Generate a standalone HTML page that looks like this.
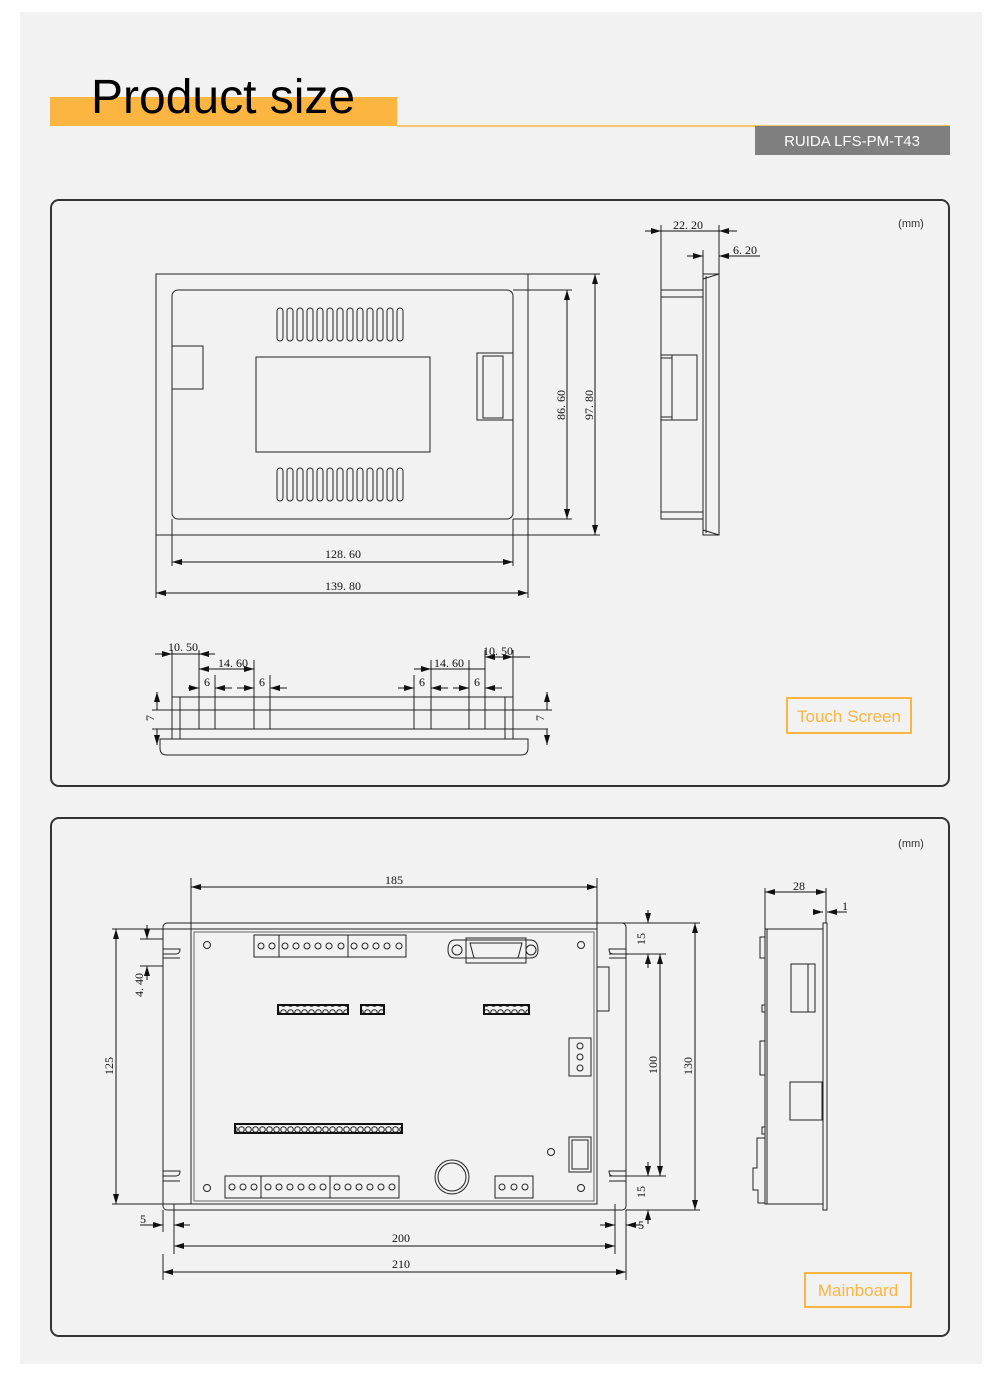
<!DOCTYPE html>
<html><head><meta charset="utf-8"><style>
html,body{margin:0;padding:0;background:#fff;}
svg{display:block;}
.d{font-family:"Liberation Serif",serif;font-size:12px;fill:#111;}
</style></head><body>
<svg width="1000" height="1396" viewBox="0 0 1000 1396" xmlns="http://www.w3.org/2000/svg">
<defs>
<marker id="a" viewBox="0 0 10 6" refX="10" refY="3" markerWidth="10" markerHeight="6" orient="auto-start-reverse" markerUnits="userSpaceOnUse"><path d="M0,0L10,3L0,6z" fill="#111"/></marker>
<pattern id="pins" x="0" y="0" width="7" height="9" patternUnits="userSpaceOnUse"><rect width="7" height="9" fill="#f2f2f2"/><circle cx="3.5" cy="4.5" r="2.8" fill="none" stroke="#222" stroke-width="1"/></pattern>
</defs>
<rect x="20" y="12" width="962" height="1352" fill="#f2f2f2"/>
<!-- header -->
<rect x="50" y="97" width="347" height="29" fill="#fbb540"/>
<line x1="397" y1="126" x2="950" y2="126" stroke="#fbb540" stroke-width="1.5"/>
<text x="91" y="113" font-family="Liberation Sans,sans-serif" font-size="48" fill="#000">Product size</text>
<rect x="755" y="126" width="195" height="29" fill="#7f7f7f"/>
<text x="852" y="146" font-family="Liberation Sans,sans-serif" font-size="15" fill="#fff" text-anchor="middle">RUIDA LFS-PM-T43</text>

<!-- panel 1 -->
<rect x="51" y="200" width="898" height="586" rx="8" fill="none" stroke="#333" stroke-width="2"/>
<text x="911" y="227" font-family="Liberation Sans,sans-serif" font-size="11" fill="#333" text-anchor="middle">(mm)</text>
<g fill="none" stroke="#222" stroke-width="1">
<rect x="156" y="274" width="372" height="261"/>
<rect x="172" y="290" width="341" height="229" rx="6"/>
<rect x="256" y="357" width="174" height="95"/>
<path d="M172,346H203V389H172"/>
<rect x="477" y="353" width="36" height="67"/>
<rect x="483" y="356" width="20" height="62"/>
<g id="vents">
<rect x="277" y="308" width="6" height="33" rx="3"/><rect x="287" y="308" width="6" height="33" rx="3"/><rect x="297" y="308" width="6" height="33" rx="3"/><rect x="307" y="308" width="6" height="33" rx="3"/><rect x="317" y="308" width="6" height="33" rx="3"/><rect x="327" y="308" width="6" height="33" rx="3"/><rect x="337" y="308" width="6" height="33" rx="3"/><rect x="347" y="308" width="6" height="33" rx="3"/><rect x="357" y="308" width="6" height="33" rx="3"/><rect x="367" y="308" width="6" height="33" rx="3"/><rect x="377" y="308" width="6" height="33" rx="3"/><rect x="387" y="308" width="6" height="33" rx="3"/><rect x="397" y="308" width="6" height="33" rx="3"/>
</g>
<use href="#vents" y="160"/>
<path d="M513,290H572M513,519H572M528,274H600M528,535H600M172,519V566M513,519V566M156,535V598M528,535V598"/>
</g>
<g stroke="#111" stroke-width="1">
<line x1="567" y1="290" x2="567" y2="519" marker-start="url(#a)" marker-end="url(#a)"/>
<line x1="595" y1="274" x2="595" y2="535" marker-start="url(#a)" marker-end="url(#a)"/>
<line x1="172" y1="562" x2="513" y2="562" marker-start="url(#a)" marker-end="url(#a)"/>
<line x1="156" y1="593" x2="528" y2="593" marker-start="url(#a)" marker-end="url(#a)"/>
</g>
<text class="d" transform="translate(565,405) rotate(-90)" text-anchor="middle">86. 60</text>
<text class="d" transform="translate(593,405) rotate(-90)" text-anchor="middle">97. 80</text>
<text class="d" x="343" y="558" text-anchor="middle">128. 60</text>
<text class="d" x="343" y="590" text-anchor="middle">139. 80</text>

<!-- side view -->
<g fill="none" stroke="#222" stroke-width="1">
<rect x="703" y="274" width="16" height="261"/>
<path d="M706,276V533M703,279L719,274M703,530L719,535"/>
<rect x="661" y="290" width="42" height="229"/>
<path d="M661,297H703M661,512H703"/>
<rect x="661" y="355" width="36" height="65"/>
<path d="M672,355V420M661,358H672M661,417H672"/>
<path d="M661,225V290M719,225V274M703,250V274"/>
</g>
<g stroke="#111" stroke-width="1">
<line x1="645" y1="231" x2="661" y2="231" marker-end="url(#a)"/>
<line x1="661" y1="231" x2="719" y2="231"/>
<line x1="737" y1="231" x2="719" y2="231" marker-end="url(#a)"/>
<line x1="687" y1="256" x2="703" y2="256" marker-end="url(#a)"/>
<line x1="735" y1="256" x2="719" y2="256" marker-end="url(#a)"/>
<line x1="735" y1="256" x2="760" y2="256"/>
</g>
<text class="d" x="688" y="229" text-anchor="middle">22. 20</text>
<text class="d" x="745" y="254" text-anchor="middle">6. 20</text>

<!-- bottom view -->
<g fill="none" stroke="#222" stroke-width="1">
<path d="M172,697H513M172,697V739M180,697V739M505,697V739M513,697V739"/>
<path d="M152,710H552M152,729H548"/>
<rect x="199" y="697" width="16" height="32"/>
<rect x="254" y="697" width="16" height="32"/>
<rect x="414" y="697" width="17" height="32"/>
<rect x="469" y="697" width="16" height="32"/>
<path d="M160,739H528V748Q528,755 521,755H167Q160,755 160,748Z"/>
<path d="M172,650V697M199,650V697M215,675V697M254,660V697M270,675V697M414,675V697M431,660V697M469,660V697M485,650V697M513,650V697"/>
</g>
<g stroke="#111" stroke-width="1">
<line x1="155" y1="654" x2="172" y2="654" marker-end="url(#a)"/>
<line x1="172" y1="654" x2="199" y2="654"/>
<line x1="215" y1="654" x2="199" y2="654" marker-end="url(#a)"/>
<line x1="199" y1="669" x2="254" y2="669" marker-start="url(#a)" marker-end="url(#a)"/>
<line x1="188" y1="688" x2="199" y2="688" marker-end="url(#a)"/>
<line x1="232" y1="688" x2="215" y2="688" marker-end="url(#a)"/>
<line x1="237" y1="688" x2="254" y2="688" marker-end="url(#a)"/>
<line x1="287" y1="688" x2="270" y2="688" marker-end="url(#a)"/>
<line x1="398" y1="688" x2="414" y2="688" marker-end="url(#a)"/>
<line x1="448" y1="688" x2="431" y2="688" marker-end="url(#a)"/>
<line x1="453" y1="688" x2="469" y2="688" marker-end="url(#a)"/>
<line x1="502" y1="688" x2="485" y2="688" marker-end="url(#a)"/>
<line x1="414" y1="669" x2="431" y2="669" marker-end="url(#a)"/>
<line x1="431" y1="669" x2="485" y2="669"/>
<line x1="485" y1="657" x2="513" y2="657" marker-start="url(#a)" marker-end="url(#a)"/>
<line x1="513" y1="657" x2="530" y2="657"/>
<line x1="157" y1="692" x2="157" y2="710" marker-start="url(#a)"/>
<line x1="157" y1="729" x2="157" y2="745" marker-end="url(#a)"/>
<line x1="547" y1="692" x2="547" y2="710" marker-start="url(#a)"/>
<line x1="547" y1="729" x2="547" y2="745" marker-end="url(#a)"/>
</g>
<text class="d" x="183" y="651" text-anchor="middle">10. 50</text>
<text class="d" x="233" y="667" text-anchor="middle">14. 60</text>
<text class="d" x="207" y="686" text-anchor="middle">6</text>
<text class="d" x="262" y="686" text-anchor="middle">6</text>
<text class="d" x="449" y="667" text-anchor="middle">14. 60</text>
<text class="d" x="498" y="655" text-anchor="middle">10. 50</text>
<text class="d" x="422" y="686" text-anchor="middle">6</text>
<text class="d" x="477" y="686" text-anchor="middle">6</text>
<text class="d" transform="translate(154,718) rotate(-90)" text-anchor="middle">7</text>
<text class="d" transform="translate(544,718) rotate(-90)" text-anchor="middle">7</text>
<rect x="787" y="698" width="124" height="35" fill="none" stroke="#fbb540" stroke-width="2"/>
<text x="849" y="722" font-family="Liberation Sans,sans-serif" font-size="17" fill="#fbb540" text-anchor="middle">Touch Screen</text>

<!-- panel 2 -->
<rect x="51" y="818" width="898" height="518" rx="8" fill="none" stroke="#333" stroke-width="2"/>
<text x="911" y="847" font-family="Liberation Sans,sans-serif" font-size="11" fill="#333" text-anchor="middle">(mm)</text>
<g fill="none" stroke="#222" stroke-width="1">
<rect x="163" y="923" width="463" height="287" rx="4"/>
<rect x="191" y="929" width="406" height="275"/>
<rect x="194" y="932" width="400" height="269" stroke="#666"/>
<path d="M163,949H180Q180,954 176,954H163M163,958H180M163,1171H180Q180,1176 176,1176H163M163,1181H180"/>
<path d="M626,949H609Q609,954 613,954H626M626,958H609M626,1171H609Q609,1176 613,1176H626M626,1181H609"/>
<rect x="597" y="967" width="12" height="44"/>
<circle cx="207" cy="945" r="3.5"/><circle cx="581" cy="945" r="3.5"/><circle cx="207" cy="1188" r="3.5"/><circle cx="581" cy="1188" r="3.5"/><circle cx="551" cy="1152" r="3.5"/>
<rect x="254" y="935" width="152" height="22"/><path d="M279,935V957M348,935V957"/>
<circle cx="261" cy="946" r="3"/><circle cx="272" cy="946" r="3"/><circle cx="285" cy="946" r="3"/><circle cx="296" cy="946" r="3"/><circle cx="307" cy="946" r="3"/><circle cx="318" cy="946" r="3"/><circle cx="329" cy="946" r="3"/><circle cx="341" cy="946" r="3"/><circle cx="354" cy="946" r="3"/><circle cx="365" cy="946" r="3"/><circle cx="376" cy="946" r="3"/><circle cx="387" cy="946" r="3"/><circle cx="399" cy="946" r="3"/>
<path d="M455,940H530Q538,940 538,950Q538,958 530,958H455Q448,958 448,950Q448,940 455,940Z"/>
<path d="M466,938H526V963H466Z"/><path d="M470,943H522L518,958H474Z"/>
<circle cx="457" cy="950" r="5"/><circle cx="531" cy="950" r="5"/>
<rect x="569" y="1038" width="22" height="38"/>
<circle cx="580" cy="1046" r="3"/><circle cx="580" cy="1057" r="3"/><circle cx="580" cy="1068" r="3"/>
<rect x="569" y="1137" width="22" height="35"/><rect x="572" y="1140" width="16" height="29"/>
<circle cx="452" cy="1177" r="17"/><circle cx="452" cy="1177" r="14"/>
<rect x="225" y="1176" width="174" height="22"/><path d="M261,1176V1198M330,1176V1198"/>
<rect x="495" y="1176" width="38" height="22"/>
<circle cx="502" cy="1187" r="3"/><circle cx="514" cy="1187" r="3"/><circle cx="525" cy="1187" r="3"/>
<path d="M191,929V878M597,929V878M112,929H191M112,1204H191M140,939H163M140,966H163M163,1210V1232M174,1204V1254M615,1204V1254M626,1210V1280M163,1254V1280M597,923H700M609,954H666M609,1176H666M626,1210H700"/>
</g>
<g stroke="#111" stroke-width="2">
<rect x="278" y="1005" width="70" height="9" fill="url(#pins)"/>
<rect x="361" y="1005" width="23" height="9" fill="url(#pins)"/>
<rect x="484" y="1005" width="45" height="9" fill="url(#pins)"/>
<rect x="235" y="1124" width="167" height="9" fill="url(#pins)"/>
</g>
<g fill="none" stroke="#222" stroke-width="1">
<circle cx="232" cy="1187" r="3"/><circle cx="243" cy="1187" r="3"/><circle cx="254" cy="1187" r="3"/>
<circle cx="268" cy="1187" r="3"/><circle cx="279" cy="1187" r="3"/><circle cx="290" cy="1187" r="3"/><circle cx="301" cy="1187" r="3"/><circle cx="312" cy="1187" r="3"/><circle cx="323" cy="1187" r="3"/>
<circle cx="337" cy="1187" r="3"/><circle cx="348" cy="1187" r="3"/><circle cx="359" cy="1187" r="3"/><circle cx="370" cy="1187" r="3"/><circle cx="381" cy="1187" r="3"/><circle cx="392" cy="1187" r="3"/>
</g>
<g stroke="#111" stroke-width="1">
<line x1="191" y1="887" x2="597" y2="887" marker-start="url(#a)" marker-end="url(#a)"/>
<line x1="116" y1="929" x2="116" y2="1204" marker-start="url(#a)" marker-end="url(#a)"/>
<line x1="147" y1="925" x2="147" y2="939" marker-end="url(#a)"/>
<line x1="147" y1="980" x2="147" y2="966" marker-end="url(#a)"/>
<line x1="174" y1="1246" x2="615" y2="1246" marker-start="url(#a)" marker-end="url(#a)"/>
<line x1="163" y1="1272" x2="626" y2="1272" marker-start="url(#a)" marker-end="url(#a)"/>
<line x1="140" y1="1225" x2="163" y2="1225" marker-end="url(#a)"/>
<line x1="190" y1="1225" x2="174" y2="1225" marker-end="url(#a)"/>
<line x1="600" y1="1225" x2="615" y2="1225" marker-end="url(#a)"/>
<line x1="642" y1="1225" x2="626" y2="1225" marker-end="url(#a)"/>
<line x1="648" y1="910" x2="648" y2="923" marker-end="url(#a)"/>
<line x1="648" y1="968" x2="648" y2="954" marker-end="url(#a)"/>
<line x1="648" y1="1162" x2="648" y2="1176" marker-end="url(#a)"/>
<line x1="648" y1="1224" x2="648" y2="1210" marker-end="url(#a)"/>
<line x1="660" y1="954" x2="660" y2="1176" marker-start="url(#a)" marker-end="url(#a)"/>
<line x1="695" y1="923" x2="695" y2="1210" marker-start="url(#a)" marker-end="url(#a)"/>
</g>
<text class="d" x="394" y="884" text-anchor="middle" font-size="13">185</text>
<text class="d" transform="translate(113,1066) rotate(-90)" text-anchor="middle" font-size="13">125</text>
<text class="d" transform="translate(143,985) rotate(-90)" text-anchor="middle" font-size="13">4. 40</text>
<text class="d" x="401" y="1242" text-anchor="middle" font-size="13">200</text>
<text class="d" x="401" y="1268" text-anchor="middle" font-size="13">210</text>
<text class="d" x="143" y="1223" text-anchor="middle" font-size="13">5</text>
<text class="d" x="641" y="1229" text-anchor="middle" font-size="13">5</text>
<text class="d" transform="translate(645,939) rotate(-90)" text-anchor="middle" font-size="13">15</text>
<text class="d" transform="translate(645,1192) rotate(-90)" text-anchor="middle" font-size="13">15</text>
<text class="d" transform="translate(657,1065) rotate(-90)" text-anchor="middle" font-size="13">100</text>
<text class="d" transform="translate(692,1066) rotate(-90)" text-anchor="middle" font-size="13">130</text>

<!-- mainboard side -->
<g fill="none" stroke="#222" stroke-width="1">
<rect x="765" y="929" width="58" height="275"/>
<path d="M767,929V1204"/>
<rect x="823" y="923" width="4" height="287"/>
<rect x="791" y="964" width="24" height="48"/><path d="M808,964V1012"/>
<rect x="790" y="1082" width="32" height="38"/>
<path d="M765,937H760V958H765M765,1005H762V1012H765M765,1041H760V1075H765M765,1127H762V1134H765M765,1138H757V1168H753V1190H758V1203H765"/>
<path d="M765,929V888M826,923V888"/>
</g>
<g stroke="#111" stroke-width="1">
<line x1="765" y1="892" x2="826" y2="892" marker-start="url(#a)" marker-end="url(#a)"/>
<line x1="813" y1="912" x2="823" y2="912" marker-end="url(#a)"/>
<line x1="847" y1="912" x2="827" y2="912" marker-end="url(#a)"/>
</g>
<text class="d" x="799" y="890" text-anchor="middle" font-size="13">28</text>
<text class="d" x="845" y="910" text-anchor="middle" font-size="13">1</text>
<rect x="805" y="1273" width="106" height="34" fill="none" stroke="#fbb540" stroke-width="2"/>
<text x="858" y="1296" font-family="Liberation Sans,sans-serif" font-size="17" fill="#fbb540" text-anchor="middle">Mainboard</text>
</svg>
</body></html>
